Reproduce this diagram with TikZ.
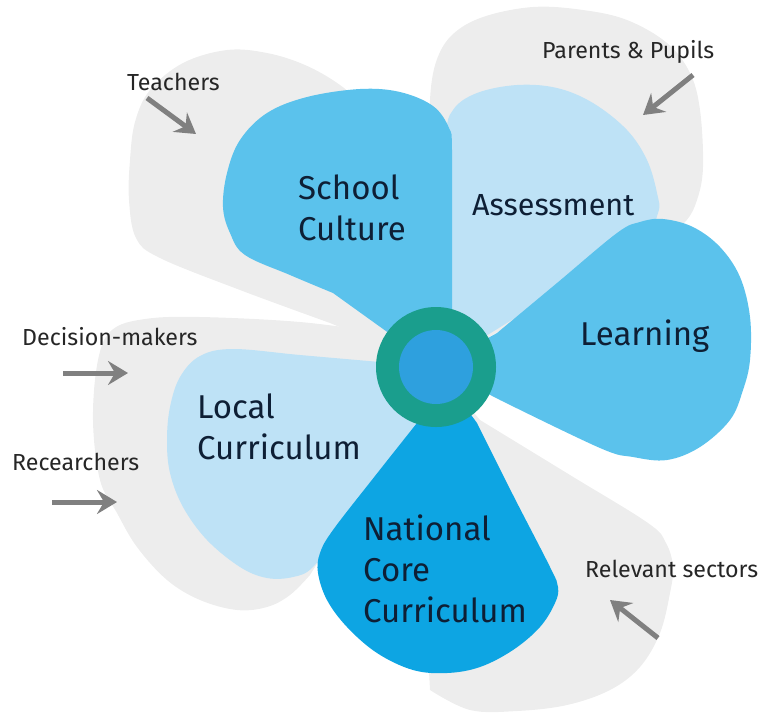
\documentclass[tikz,border=0pt]{standalone}
\usepackage{fontspec}
\setmainfont{Fira Sans}
\usetikzlibrary{arrows.meta}
\definecolor{petalgray}{HTML}{EDEDED}
\definecolor{lightblue}{HTML}{BEE2F6}
\definecolor{midblue}{HTML}{5BC2EC}
\definecolor{darkblue}{HTML}{0DA5E3}
\definecolor{ringteal}{HTML}{1A9E8D}
\definecolor{hubblue}{HTML}{2EA0DE}
\definecolor{labelnavy}{HTML}{0E1F35}
\definecolor{smalltext}{HTML}{262626}
\definecolor{arrowgray}{HTML}{808080}
\begin{document}
\begin{tikzpicture}[x=1pt,y=-1pt,
  biglabel/.style={text=labelnavy, align=left, inner sep=0pt, font=\fontsize{33}{41}\selectfont},
  smalllabel/.style={text=smalltext, inner sep=0pt, font=\fontsize{23.2}{27}\selectfont},
  flow/.style={draw=arrowgray, line width=5pt, -{Stealth[length=20pt,width=24pt,inset=7pt]}}]
\useasboundingbox (0,0) rectangle (762,713);
\coordinate (C) at (436,367);
% gray background petals
\fill[petalgray] (C) -- plot[smooth, tension=0.6] coordinates {(330,323) (240,290) (160,258) (136,238) (129,200) (130,160) (135,122) (150,90) (183,63) (227,50) (267,53) (305,65) (340,85) (375,115)} -- (445,300) -- cycle;
\fill[petalgray] (C) -- plot[smooth, tension=0.6] coordinates {(432,140) (430,100) (436,62) (452,35) (483,17) (533,7) (583,10) (627,20) (667,43) (690,73) (700,110) (703,167) (697,200) (685,222) (660,240)} -- cycle;
\fill[petalgray] (C) -- plot[smooth, tension=0.6] coordinates {(385,333) (300,322) (200,317) (145,319) (112,330) (98,360) (93,420) (100,480) (117,513) (137,547) (167,580) (200,600) (237,610) (267,607) (290,595) (310,575)} -- (400,430) -- cycle;
\fill[petalgray] (C) -- plot[smooth, tension=0.6] coordinates {(480,420) (570,475) (648,523) (666,543) (673,567) (670,593) (660,633) (640,667) (610,690) (567,705) (517,711) (470,710) (430,690)} -- (420,500) -- cycle;
% coloured petals
\fill[lightblue] (C) -- plot[smooth, tension=0.6] coordinates {(445,250) (446,140) (453,110) (477,93) (517,85) (557,88) (593,103) (627,130) (647,160) (657,193) (658,213) (640,240) (560,290)} -- cycle;
\fill[midblue] (C) -- (452,330) -- plot[smooth, tension=0.6] coordinates {(452,250) (452,150) (449,128) (433,106) (400,92) (360,89) (307,97) (267,113) (240,140) (227,173) (223,207) (230,233) (245,255) (290,275) (333,293)} -- cycle;
\fill[midblue] (C) -- plot[smooth, tension=0.6] coordinates {(497,333) (557,283) (617,233) (640,222) (663,219) (693,227) (720,247) (740,277) (750,317) (750,360) (743,390) (730,420) (700,447) (667,460) (633,457) (600,448) (500,400)} -- cycle;
\fill[lightblue] (C) -- plot[smooth, tension=0.6] coordinates {(380,362) (300,355) (233,349) (200,356) (180,377) (170,407) (167,440) (170,473) (183,507) (207,540) (240,567) (267,578) (293,577) (313,567) (340,530)} -- (420,420) -- cycle;
\fill[darkblue] (C) -- plot[smooth, tension=0.6] coordinates {(417,423) (375,476) (333,530) (320,553) (318,573) (327,600) (347,627) (377,653) (413,670) (447,673) (480,667) (513,650) (540,627) (555,603) (558,587) (550,567) (513,495) (477,423)} -- cycle;
% hub
\node[circle, fill=ringteal, minimum size=120pt, inner sep=0pt] (hub) at (C) {};
\node[circle, fill=hubblue, minimum size=74pt, inner sep=0pt] (hubcore) at (C) {};
% big labels
\node[biglabel, anchor=west] (school) at (298,208) {School\\Culture};
\node[biglabel, anchor=base west, font=\fontsize{30.5}{36}\selectfont] (assess) at (472,215) {Assessment};
\node[biglabel, anchor=base west] (learn) at (580,345) {Learning};
\node[biglabel, anchor=west] (local) at (197,427) {Local\\Curriculum};
\node[biglabel, anchor=west] (national) at (363,569) {National\\Core\\Curriculum};
% small labels
\node[smalllabel, anchor=base west] (teachers) at (127,90) {Teachers};
\node[smalllabel, anchor=base west] (parents) at (542,58) {Parents \& Pupils};
\node[smalllabel, anchor=base west] (decision) at (22,345) {Decision-makers};
\node[smalllabel, anchor=base west] (research) at (12,470) {Recearchers};
\node[smalllabel, anchor=base west] (sectors) at (585,577) {Relevant sectors};
% arrows
\coordinate (t1) at (147,98);  \coordinate (t2) at (196,134);
\coordinate (p1) at (693,75);  \coordinate (p2) at (643,115);
\coordinate (d1) at (63,373);  \coordinate (d2) at (128,373);
\coordinate (r1) at (52,502);  \coordinate (r2) at (117,502);
\coordinate (s1) at (658,638); \coordinate (s2) at (610,600);
\draw[flow] (t1) -- (t2);
\draw[flow] (p1) -- (p2);
\draw[flow] (d1) -- (d2);
\draw[flow] (r1) -- (r2);
\draw[flow] (s1) -- (s2);
\end{tikzpicture}
\end{document}
